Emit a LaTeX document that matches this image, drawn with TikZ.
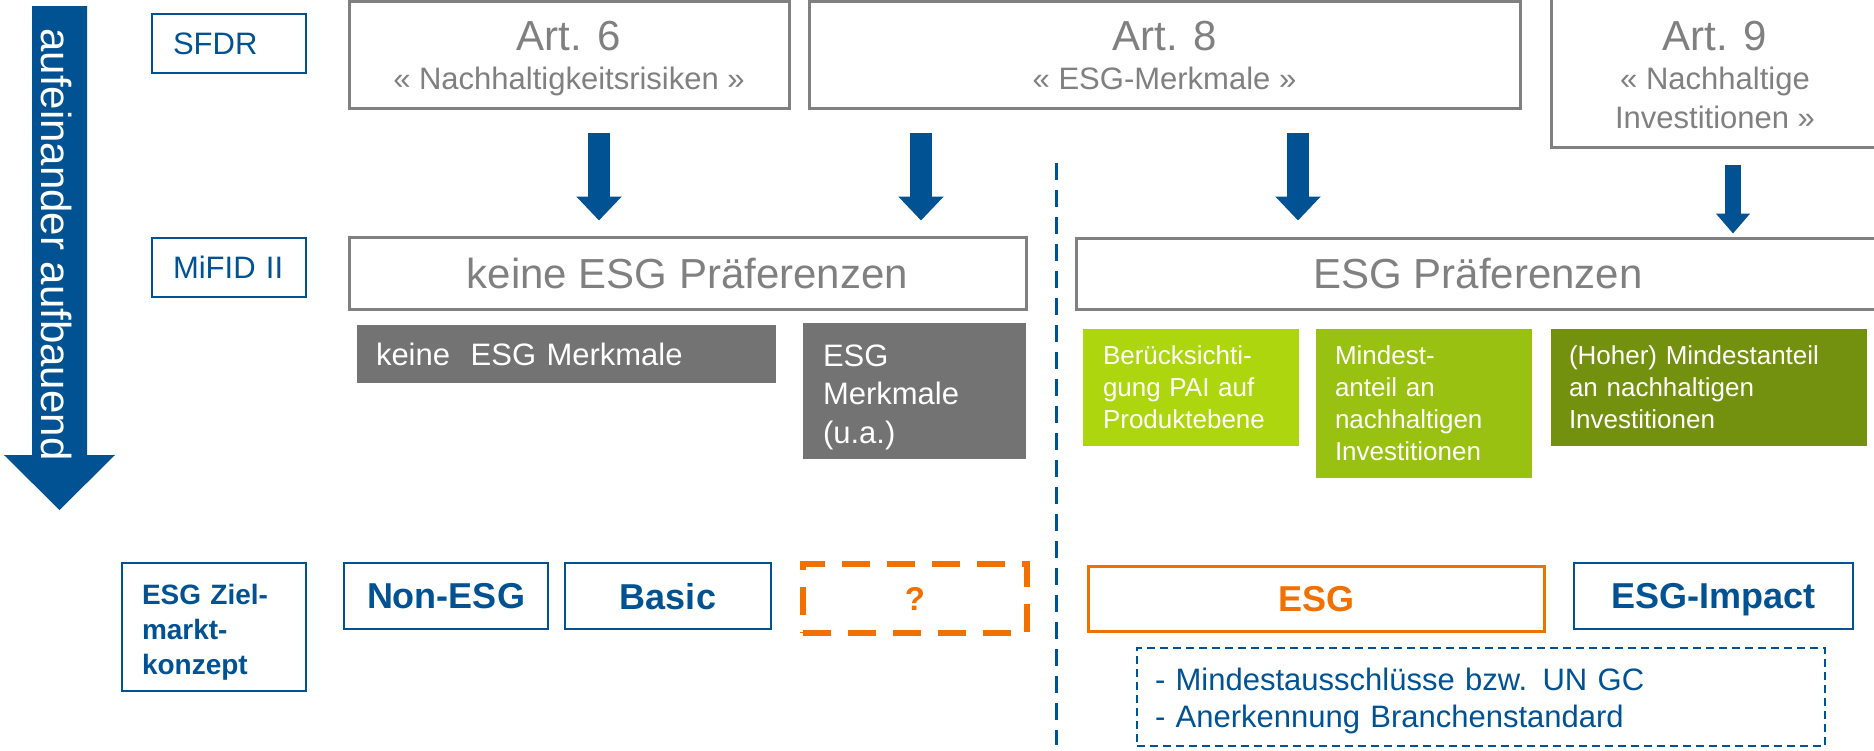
\documentclass[tikz,border=0pt]{standalone}
\usepackage{fontspec}
\setmainfont{Liberation Sans}
\usetikzlibrary{arrows.meta}
\definecolor{dblue}{RGB}{0,82,147}
\definecolor{bgray}{RGB}{128,128,128}
\definecolor{fgray}{RGB}{115,115,115}
\definecolor{orng}{RGB}{240,112,0}
\definecolor{gA}{RGB}{173,214,15}
\definecolor{gB}{RGB}{153,193,18}
\definecolor{gC}{RGB}{115,145,15}
\newcommand{\fsz}[2]{\fontsize{#1}{#2}\selectfont}
\begin{document}
\begin{tikzpicture}[x=1pt,y=-1pt,
  artbox/.style={draw=bgray,line width=3pt,fill=white,inner sep=0pt},
  arttxt/.style={text=bgray,inner sep=0pt,anchor=base},
  lblbox/.style={draw=dblue,line width=2.5pt,text=dblue,inner sep=0pt,text depth=0pt,align=left,font={\fsz{31}{37}}},
  prefbox/.style={draw=bgray,line width=3pt,text=bgray,inner sep=0pt,text depth=0pt,font={\fsz{42}{46}}},
  graybox/.style={fill=fgray,text=white,inner ysep=0pt,align=left,font={\fsz{31}{38.5}}},
  grnbox/.style={text=white,inner ysep=0pt,align=left,font={\fsz{26}{32}}},
  zmbox/.style={draw=dblue,line width=2.5pt,text=dblue,inner sep=0pt,text depth=0pt,font={\bfseries\fsz{36}{40}}},
  bigarr/.style={draw=dblue,line width=22pt,-{Triangle[width=44pt,length=24pt]}},
  smallarr/.style={draw=dblue,line width=16pt,-{Triangle[width=33pt,length=20pt]}},
]
\useasboundingbox (0,0) rectangle (1874,750);
\clip (0,0) rectangle (1874,750);

% left big arrow
\fill[dblue] (32,6) -- (87,6) -- (87,455) -- (115,455) -- (59.5,510) -- (4,455) -- (32,455) -- cycle;
\node[rotate=-90,text=white,inner sep=0pt,font={\fsz{42}{46}}] (auf) at (57,244.5) {aufeinander aufbauend};

% row labels
\node[lblbox,minimum width=154pt,minimum height=59pt,text width=112pt,inner xsep=21pt] (sfdr) at (229,43.5) {SFDR};
\node[lblbox,minimum width=154pt,minimum height=59pt,text width=112pt,inner xsep=21pt] (mifid) at (229,267.5) {MiFID II};

% SFDR articles
\node[artbox,minimum width=440pt,minimum height=107pt] (art6) at (569,54.5) {};
\node[arttxt,font={\fsz{42}{46}}] (art6a) at (569,50) {Art. 6};
\node[arttxt,font={\fsz{31}{37}}] (art6b) at (569,89) {« Nachhaltigkeitsrisiken »};

\node[artbox,minimum width=711pt,minimum height=107pt] (art8) at (1164.5,54.5) {};
\node[arttxt,font={\fsz{42}{46}}] (art8a) at (1164.5,50) {Art. 8};
\node[arttxt,font={\fsz{31}{37}}] (art8b) at (1164.5,89) {« ESG-Merkmale »};

\node[artbox,minimum width=329pt,minimum height=152pt] (art9) at (1715.5,71) {};
\node[arttxt,font={\fsz{42}{46}}] (art9a) at (1715,50) {Art. 9};
\node[arttxt,font={\fsz{31}{37}}] (art9b) at (1715,89) {« Nachhaltige};
\node[arttxt,font={\fsz{31}{37}}] (art9c) at (1715,128) {Investitionen »};

% MiFID preferences
\node[prefbox,minimum width=677pt,minimum height=72pt] (keine) at (687.5,273) {keine ESG Präferenzen};
\node[prefbox,minimum width=804pt,minimum height=71pt] (pref) at (1478,273.5) {ESG Präferenzen};

% arrows
\coordinate (x1) at (599,0);
\coordinate (x2) at (921,0);
\coordinate (x3) at (1298,0);
\coordinate (x4) at (1733,0);
\draw[bigarr,shorten <=23pt,shorten >=15pt] (art6.south -| x1) -- (keine.north -| x1);
\draw[bigarr,shorten <=23pt,shorten >=15pt] (art8.south -| x2) -- (keine.north -| x2);
\draw[bigarr,shorten <=23pt,shorten >=16pt] (art8.south -| x3) -- (pref.north -| x3);
\draw[smallarr,shorten <=16pt,shorten >=3pt] (art9.south -| x4) -- (pref.north -| x4);

% gray boxes
\node[graybox,minimum width=419pt,minimum height=58pt,text width=381pt,inner xsep=19pt] (gm1) at (566.5,354) {keine~ ESG Merkmale};
\node[graybox,minimum width=223pt,minimum height=136pt,text width=183pt,inner xsep=20pt] (gm2) at (914.5,391) {\rule{0pt}{34pt}ESG\\Merkmale\\(u.a.)};

% green boxes
\node[grnbox,fill=gA,minimum width=216pt,minimum height=117pt,text width=176pt,inner xsep=20pt] (g1) at (1191,387.5) {Berücksichti-\\gung PAI auf\\Produktebene};
\node[grnbox,fill=gB,minimum width=216pt,minimum height=149pt,text width=178pt,inner xsep=19pt] (g2) at (1424,403.5) {Mindest-\\anteil an\\nachhaltigen\\Investitionen};
\node[grnbox,fill=gC,minimum width=316pt,minimum height=117pt,text width=280pt,inner xsep=18pt] (g3) at (1709,387.5) {(Hoher) Mindestanteil\\an nachhaltigen\\Investitionen};

% divider
\coordinate (dtop) at (1056,163);
\coordinate (dbot) at (1056,745);
\draw[dblue,line width=3pt,dash pattern=on 17pt off 10pt] (dtop) -- (dbot);

% ESG Zielmarktkonzept row
\node[draw=dblue,line width=2.5pt,text=dblue,inner ysep=0pt,inner xsep=20pt,align=left,text width=144pt,minimum width=184pt,minimum height=128pt,font={\bfseries\fsz{28}{35}}] (zk) at (214,627) {\rule{0pt}{30pt}ESG Ziel-\\markt-\\konzept};
\node[zmbox,minimum width=204pt,minimum height=66pt] (nonesg) at (446,596) {Non-ESG};
\node[zmbox,minimum width=206pt,minimum height=66pt] (basic) at (668,596) {Basic};
\node[zmbox,draw=orng,text=orng,line width=6pt,dash pattern=on 28pt off 17pt,minimum width=224pt,minimum height=69pt,font={\bfseries\fsz{33}{36}}] (q) at (915,598.5) {?};
\node[zmbox,draw=orng,text=orng,line width=3pt,minimum width=456pt,minimum height=65pt] (esg) at (1316,598.5) {ESG};
\node[zmbox,minimum width=279pt,minimum height=66pt] (impact) at (1713.5,596) {ESG-Impact};
\node[draw=dblue,line width=2pt,dash pattern=on 8pt off 5pt,text=dblue,inner ysep=0pt,inner xsep=18pt,align=left,text width=652pt,minimum width=688pt,minimum height=98pt,font={\fsz{31}{37}}] (dbox) at (1481,697) {\rule{0pt}{30pt}- Mindestausschlüsse bzw. UN GC\\- Anerkennung Branchenstandard};
\end{tikzpicture}
\end{document}
